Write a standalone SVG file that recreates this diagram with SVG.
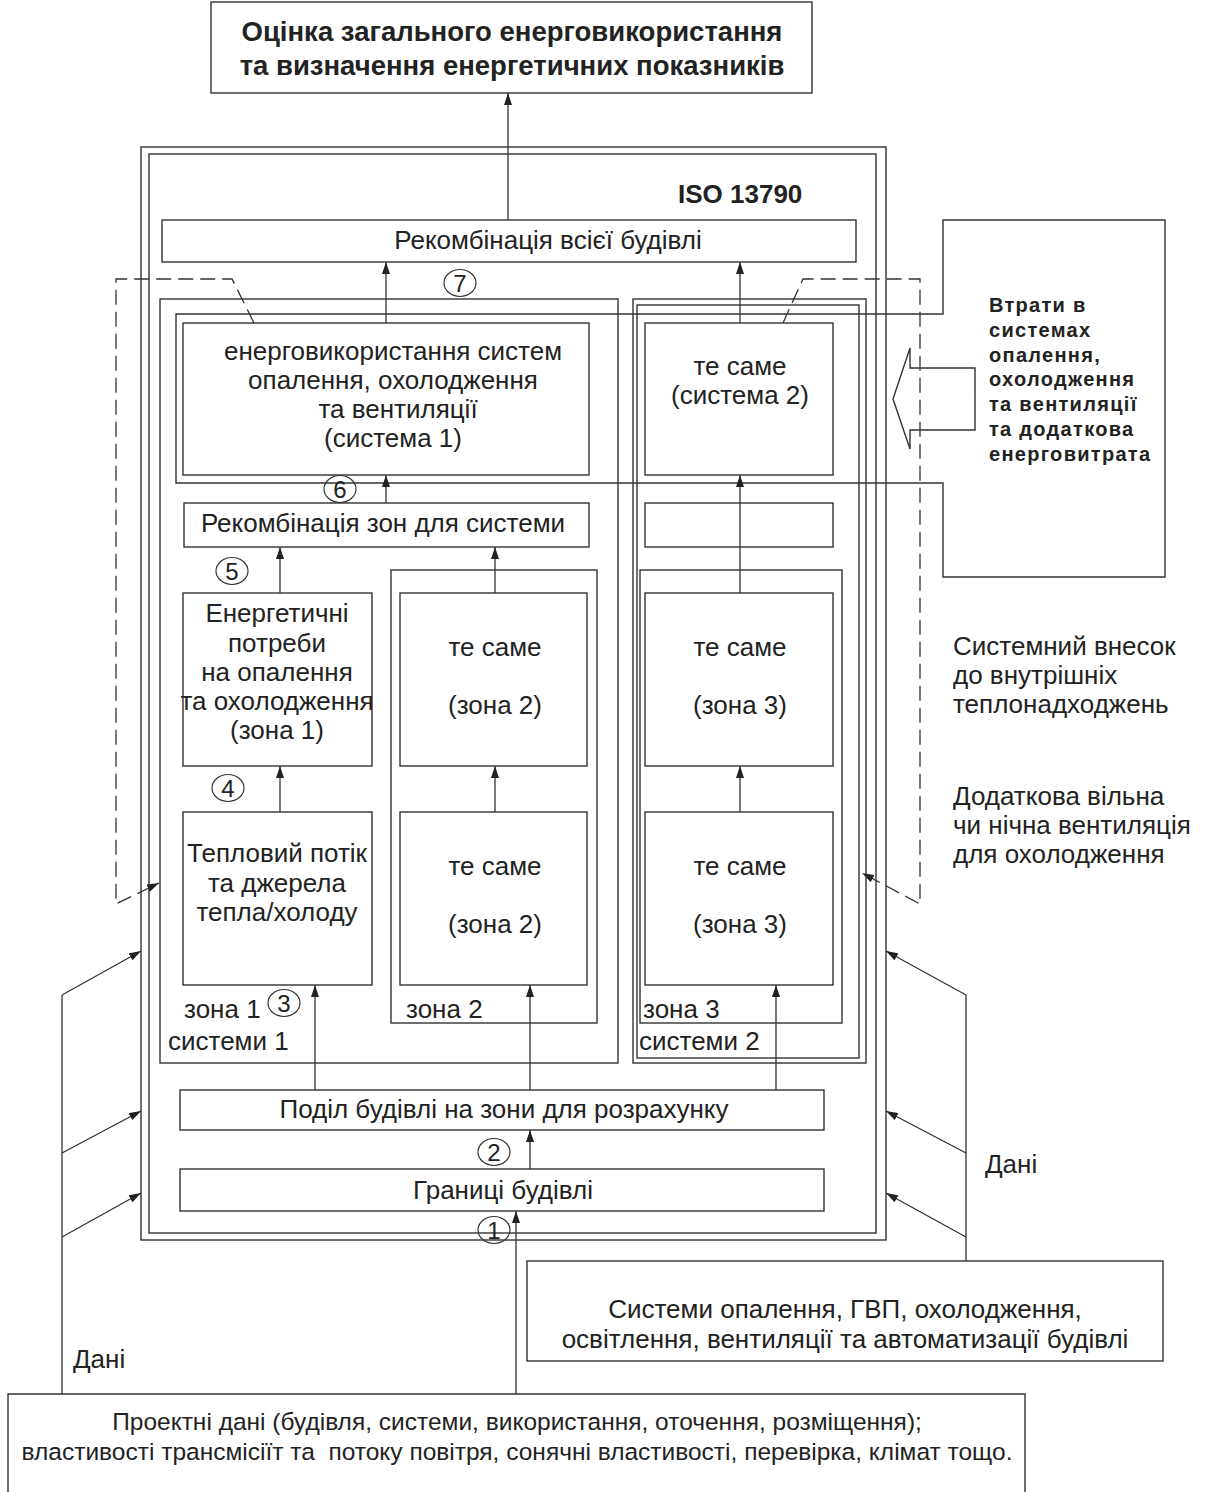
<svg xmlns="http://www.w3.org/2000/svg" width="1207" height="1492" viewBox="0 0 1207 1492">
<defs>
<style>
.box{fill:none;stroke:#333;stroke-width:1.4}
.ln{fill:none;stroke:#333;stroke-width:1.3}
.ar{fill:none;stroke:#333;stroke-width:1.3;marker-end:url(#ah)}
.dash{fill:none;stroke:#333;stroke-width:1.3;stroke-dasharray:15 7;marker-end:url(#ah)}
.cir{fill:none;stroke:#333;stroke-width:1.2}
text{font-family:"Liberation Sans",Arial,sans-serif;fill:#222}
.t{font-size:26px}
.c{text-anchor:middle}
.b{font-weight:bold}
.h{font-size:27.5px;font-weight:bold}
.n{font-size:24px;text-anchor:middle}
.w{font-size:20px;font-weight:bold;letter-spacing:1.3px}
.s{font-size:24.5px;white-space:pre}
</style>
<marker id="ah" viewBox="0 0 12 8" refX="12" refY="4" markerWidth="12" markerHeight="8" markerUnits="userSpaceOnUse" orient="auto">
<path d="M0,0 L12,4 L0,8 z" fill="#222"/>
</marker>
</defs>
<rect width="1207" height="1492" fill="#fff"/>

<g id="title">
<rect class="box" x="211" y="2" width="601" height="91"/>
<text class="h c" x="512" y="41">Оцінка загального енерговикористання</text>
<text class="h c" x="512" y="75">та визначення енергетичних показників</text>
</g>

<g id="iso-frame">
<rect class="box" x="141" y="147" width="745" height="1093"/>
<rect class="box" x="149" y="154" width="727" height="1079"/>
<text class="t b" x="678" y="203">ISO 13790</text>
</g>

<g id="recomb-building">
<rect class="box" x="162" y="220" width="694" height="42"/>
<text class="t c" x="548" y="249">Рекомбінація всієї будівлі</text>
</g>

<g id="losses">
<path class="box" d="M943,314 L943,220 L1165,220 L1165,577 L943,577 L943,483 L176,483 L176,314 Z"/>
<path class="box" d="M893,399 L910,348 L910,368 L975,368 L975,430 L910,430 L910,449 Z"/>
<text class="w" x="989" y="312">Втрати в</text>
<text class="w" x="989" y="337">системах</text>
<text class="w" x="989" y="362">опалення,</text>
<text class="w" x="989" y="386">охолодження</text>
<text class="w" x="989" y="411">та вентиляції</text>
<text class="w" x="989" y="436">та додаткова</text>
<text class="w" x="989" y="461">енерговитрата</text>
</g>

<g id="system1-frame">
<rect class="box" x="160" y="299" width="458" height="764"/>
<text class="t" x="168" y="1050">системи 1</text>
</g>

<g id="system2-frame">
<rect class="box" x="633" y="299" width="233" height="764"/>
<rect class="box" x="637" y="305" width="222" height="753"/>
<text class="t" x="639" y="1050">системи 2</text>
</g>

<g id="energy-system1">
<rect class="box" x="183" y="323" width="406" height="152"/>
<text class="t c" x="393" y="360">енерговикористання систем</text>
<text class="t c" x="393" y="389">опалення, охолодження</text>
<text class="t c" x="398" y="418">та вентиляції</text>
<text class="t c" x="393" y="447">(система 1)</text>
</g>

<g id="energy-system2">
<rect class="box" x="645" y="323" width="188" height="152"/>
<text class="t c" x="740" y="375">те саме</text>
<text class="t c" x="740" y="404">(система 2)</text>
</g>

<g id="recomb-zones">
<rect class="box" x="184" y="503" width="405" height="44"/>
<text class="t c" x="383" y="532">Рекомбінація зон для системи</text>
</g>

<g id="recomb-zones-2">
<rect class="box" x="645" y="503" width="188" height="44"/>
</g>

<g id="zone2-frame">
<rect class="box" x="391" y="570" width="206" height="453"/>
<text class="t" x="406" y="1018">зона 2</text>
</g>

<g id="zone3-frame">
<rect class="box" x="640" y="570" width="202" height="453"/>
<text class="t" x="643" y="1018">зона 3</text>
</g>

<g id="need-zone1">
<rect class="box" x="183" y="593" width="189" height="173"/>
<text class="t c" x="277" y="622">Енергетичні</text>
<text class="t c" x="277" y="652">потреби</text>
<text class="t c" x="277" y="681">на опалення</text>
<text class="t c" x="277" y="710">та охолодження</text>
<text class="t c" x="277" y="739">(зона 1)</text>
</g>

<g id="need-zone2">
<rect class="box" x="400" y="593" width="187" height="173"/>
<text class="t c" x="495" y="656">те саме</text>
<text class="t c" x="495" y="714">(зона 2)</text>
</g>

<g id="need-zone3">
<rect class="box" x="645" y="593" width="188" height="173"/>
<text class="t c" x="740" y="656">те саме</text>
<text class="t c" x="740" y="714">(зона 3)</text>
</g>

<g id="heat-zone1">
<rect class="box" x="183" y="812" width="189" height="173"/>
<text class="t c" x="277" y="862">Тепловий потік</text>
<text class="t c" x="277" y="892">та джерела</text>
<text class="t c" x="277" y="921">тепла/холоду</text>
<text class="t" x="184" y="1018">зона 1</text>
</g>

<g id="heat-zone2">
<rect class="box" x="400" y="812" width="187" height="173"/>
<text class="t c" x="495" y="875">те саме</text>
<text class="t c" x="495" y="933">(зона 2)</text>
</g>

<g id="heat-zone3">
<rect class="box" x="645" y="812" width="188" height="173"/>
<text class="t c" x="740" y="875">те саме</text>
<text class="t c" x="740" y="933">(зона 3)</text>
</g>

<g id="zoning">
<rect class="box" x="180" y="1090" width="644" height="40"/>
<text class="t c" x="504" y="1118">Поділ будівлі на зони для розрахунку</text>
</g>

<g id="boundaries">
<rect class="box" x="180" y="1169" width="644" height="42"/>
<text class="t c" x="503" y="1199">Границі будівлі</text>
</g>

<g id="systems-input">
<rect class="box" x="527" y="1261" width="636" height="100"/>
<text class="t c" x="845" y="1318">Системи опалення, ГВП, охолодження,</text>
<text class="t c" x="845" y="1348">освітлення, вентиляції та автоматизації будівлі</text>
</g>

<g id="design-data">
<path class="box" d="M8,1492 L8,1394 L1025,1394 L1025,1492"/>
<text class="s c" x="517" y="1430">Проектні дані (будівля, системи, використання, оточення, розміщення);</text>
<text class="s c" x="517" y="1460" xml:space="preserve">властивості трансмісіїт та  потоку повітря, сонячні властивості, перевірка, клімат тощо.</text>
</g>

<g id="side-labels">
<text class="t" x="953" y="655">Системний внесок</text>
<text class="t" x="953" y="684">до внутрішніх</text>
<text class="t" x="953" y="713">теплонадходжень</text>
<text class="t" x="953" y="805">Додаткова вільна</text>
<text class="t" x="953" y="834">чи нічна вентиляція</text>
<text class="t" x="953" y="863">для охолодження</text>
<text class="t" x="73" y="1368">Дані</text>
<text class="t" x="985" y="1173">Дані</text>
</g>

<g id="step-numbers">
<ellipse class="cir" cx="460" cy="283" rx="16" ry="13.5"/><text class="n" x="460" y="292">7</text>
<ellipse class="cir" cx="340" cy="489" rx="16" ry="13.5"/><text class="n" x="340" y="498">6</text>
<ellipse class="cir" cx="232" cy="571" rx="16" ry="13.5"/><text class="n" x="232" y="580">5</text>
<ellipse class="cir" cx="228" cy="788" rx="16" ry="13.5"/><text class="n" x="228" y="797">4</text>
<ellipse class="cir" cx="284" cy="1003" rx="16" ry="13.5"/><text class="n" x="284" y="1012">3</text>
<ellipse class="cir" cx="494" cy="1152" rx="16" ry="13.5"/><text class="n" x="494" y="1161">2</text>
<ellipse class="cir" cx="494" cy="1230" rx="16" ry="13.5"/><text class="n" x="494" y="1239">1</text>
</g>

<g id="connectors">
<path class="ar" d="M508,220 L508,93"/>
<path class="ar" d="M386,323 L386,262"/>
<path class="ar" d="M740,323 L740,262"/>
<path class="ar" d="M386,503 L386,475"/>
<path class="ar" d="M740,593 L740,475"/>
<path class="ar" d="M280,593 L280,547"/>
<path class="ar" d="M495,593 L495,547"/>
<path class="ar" d="M280,812 L280,766"/>
<path class="ar" d="M495,812 L495,766"/>
<path class="ar" d="M740,812 L740,766"/>
<path class="ar" d="M315,1090 L315,985"/>
<path class="ar" d="M530,1090 L530,985"/>
<path class="ar" d="M776,1090 L776,985"/>
<path class="ar" d="M530,1169 L530,1130"/>
<path class="ar" d="M516,1394 L516,1211"/>
<path class="ln" d="M62,1394 L62,995"/>
<path class="ar" d="M62,995 L141,951"/>
<path class="ar" d="M62,1153 L141,1111"/>
<path class="ar" d="M62,1237 L141,1193"/>
<path class="ln" d="M966,1261 L966,995"/>
<path class="ar" d="M966,995 L886,951"/>
<path class="ar" d="M966,1153 L886,1111"/>
<path class="ar" d="M966,1237 L886,1193"/>
<path class="dash" d="M254,323 L232,279 L116,279 L116,904 L159,883"/>
<path class="dash" d="M783,323 L803,279 L920,279 L920,904 L862,873"/>
</g>
</svg>
